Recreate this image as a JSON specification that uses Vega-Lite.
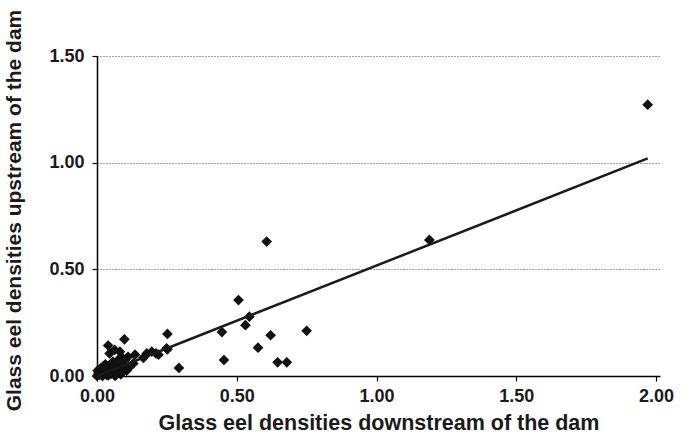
{
  "$schema": "https://vega.github.io/schema/vega-lite/v6.json",
  "width": 563,
  "height": 320,
  "autosize": {"type": "none"},
  "padding": {"left": 97, "top": 56, "right": 34, "bottom": 61},
  "background": "white",
  "config": {
    "view": {"stroke": null},
    "font": "Liberation Sans",
    "axis": {
      "labelFont": "Liberation Sans",
      "titleFont": "Liberation Sans",
      "labelFontWeight": "bold",
      "titleFontWeight": "bold",
      "labelColor": "#1a1a1a",
      "titleColor": "#1a1a1a",
      "domainColor": "#000000",
      "tickColor": "#000000",
      "domainWidth": 1.5,
      "tickWidth": 1.2,
      "tickSize": 5
    }
  },
  "layer": [
    {
      "data": {
        "values": [
          {"down": 1.97, "up": 1.272},
          {"down": 1.189, "up": 0.638},
          {"down": 0.607, "up": 0.630},
          {"down": 0.506, "up": 0.356},
          {"down": 0.545, "up": 0.278},
          {"down": 0.531, "up": 0.238},
          {"down": 0.447, "up": 0.206},
          {"down": 0.454, "up": 0.075},
          {"down": 0.621, "up": 0.191},
          {"down": 0.576, "up": 0.133},
          {"down": 0.646, "up": 0.064},
          {"down": 0.679, "up": 0.064},
          {"down": 0.750, "up": 0.212},
          {"down": 0.252, "up": 0.197},
          {"down": 0.252, "up": 0.125},
          {"down": 0.211, "up": 0.106},
          {"down": 0.196, "up": 0.114},
          {"down": 0.293, "up": 0.038},
          {"down": 0.098, "up": 0.172},
          {"down": 0.040, "up": 0.143},
          {"down": 0.082, "up": 0.114},
          {"down": 0.063, "up": 0.122},
          {"down": 0.045, "up": 0.106},
          {"down": 0.136, "up": 0.100},
          {"down": 0.166, "up": 0.085},
          {"down": 0.178, "up": 0.106},
          {"down": 0.220, "up": 0.100},
          {"down": 0.249, "up": 0.130},
          {"down": 0.087, "up": 0.090},
          {"down": 0.111, "up": 0.090},
          {"down": 0.100, "up": 0.075},
          {"down": 0.076, "up": 0.075},
          {"down": 0.130, "up": 0.059},
          {"down": 0.118, "up": 0.044},
          {"down": 0.106, "up": 0.025},
          {"down": 0.081, "up": 0.060},
          {"down": 0.057, "up": 0.067},
          {"down": 0.070, "up": 0.060},
          {"down": 0.000, "up": 0.000},
          {"down": 0.005, "up": 0.010},
          {"down": 0.010, "up": 0.005},
          {"down": 0.015, "up": 0.020},
          {"down": 0.020, "up": 0.000},
          {"down": 0.025, "up": 0.012},
          {"down": 0.030, "up": 0.030},
          {"down": 0.035, "up": 0.005},
          {"down": 0.040, "up": 0.020},
          {"down": 0.045, "up": 0.040},
          {"down": 0.050, "up": 0.010},
          {"down": 0.055, "up": 0.025},
          {"down": 0.060, "up": 0.035},
          {"down": 0.065, "up": 0.015},
          {"down": 0.070, "up": 0.045},
          {"down": 0.075, "up": 0.020},
          {"down": 0.080, "up": 0.030},
          {"down": 0.085, "up": 0.008},
          {"down": 0.012, "up": 0.035},
          {"down": 0.022, "up": 0.045},
          {"down": 0.050, "up": 0.050},
          {"down": 0.065, "up": 0.000},
          {"down": 0.002, "up": 0.025},
          {"down": 0.090, "up": 0.040},
          {"down": 0.040, "up": 0.003},
          {"down": 0.030, "up": 0.055}
        ]
      },
      "mark": {"type": "point", "shape": "diamond", "filled": true, "color": "#111111", "size": 115, "opacity": 1},
      "encoding": {
        "x": {
          "field": "down", "type": "quantitative",
          "scale": {"domain": [0, 2.014], "nice": false, "zero": false},
          "axis": {
            "values": [0, 0.5, 1, 1.5, 2],
            "format": ".2f",
            "grid": false,
            "labelFontSize": 18,
            "labelFlush": false,
            "labelPadding": 6,
            "title": "Glass eel densities downstream of the dam",
            "titleFontSize": 21.5,
            "titlePadding": 7
          }
        },
        "y": {
          "field": "up", "type": "quantitative",
          "scale": {"domain": [0, 1.5], "nice": false, "zero": false},
          "axis": {
            "values": [0, 0.5, 1, 1.5],
            "format": ".2f",
            "grid": true,
            "gridDash": [1, 2],
            "gridColor": "#444444",
            "gridWidth": 1,
            "labelFontSize": 18,
            "labelPadding": 8,
            "title": "Glass eel densities upstream of the dam",
            "titleFontSize": 21,
            "titleX": -73,
            "titleY": 154
          }
        }
      }
    },
    {
      "data": {
        "values": [
          {"down": 0.0, "up": 0.0},
          {"down": 1.97, "up": 1.02}
        ]
      },
      "mark": {"type": "line", "color": "#1a1a1a", "strokeWidth": 2.5},
      "encoding": {
        "x": {"field": "down", "type": "quantitative"},
        "y": {"field": "up", "type": "quantitative"}
      }
    }
  ]
}
